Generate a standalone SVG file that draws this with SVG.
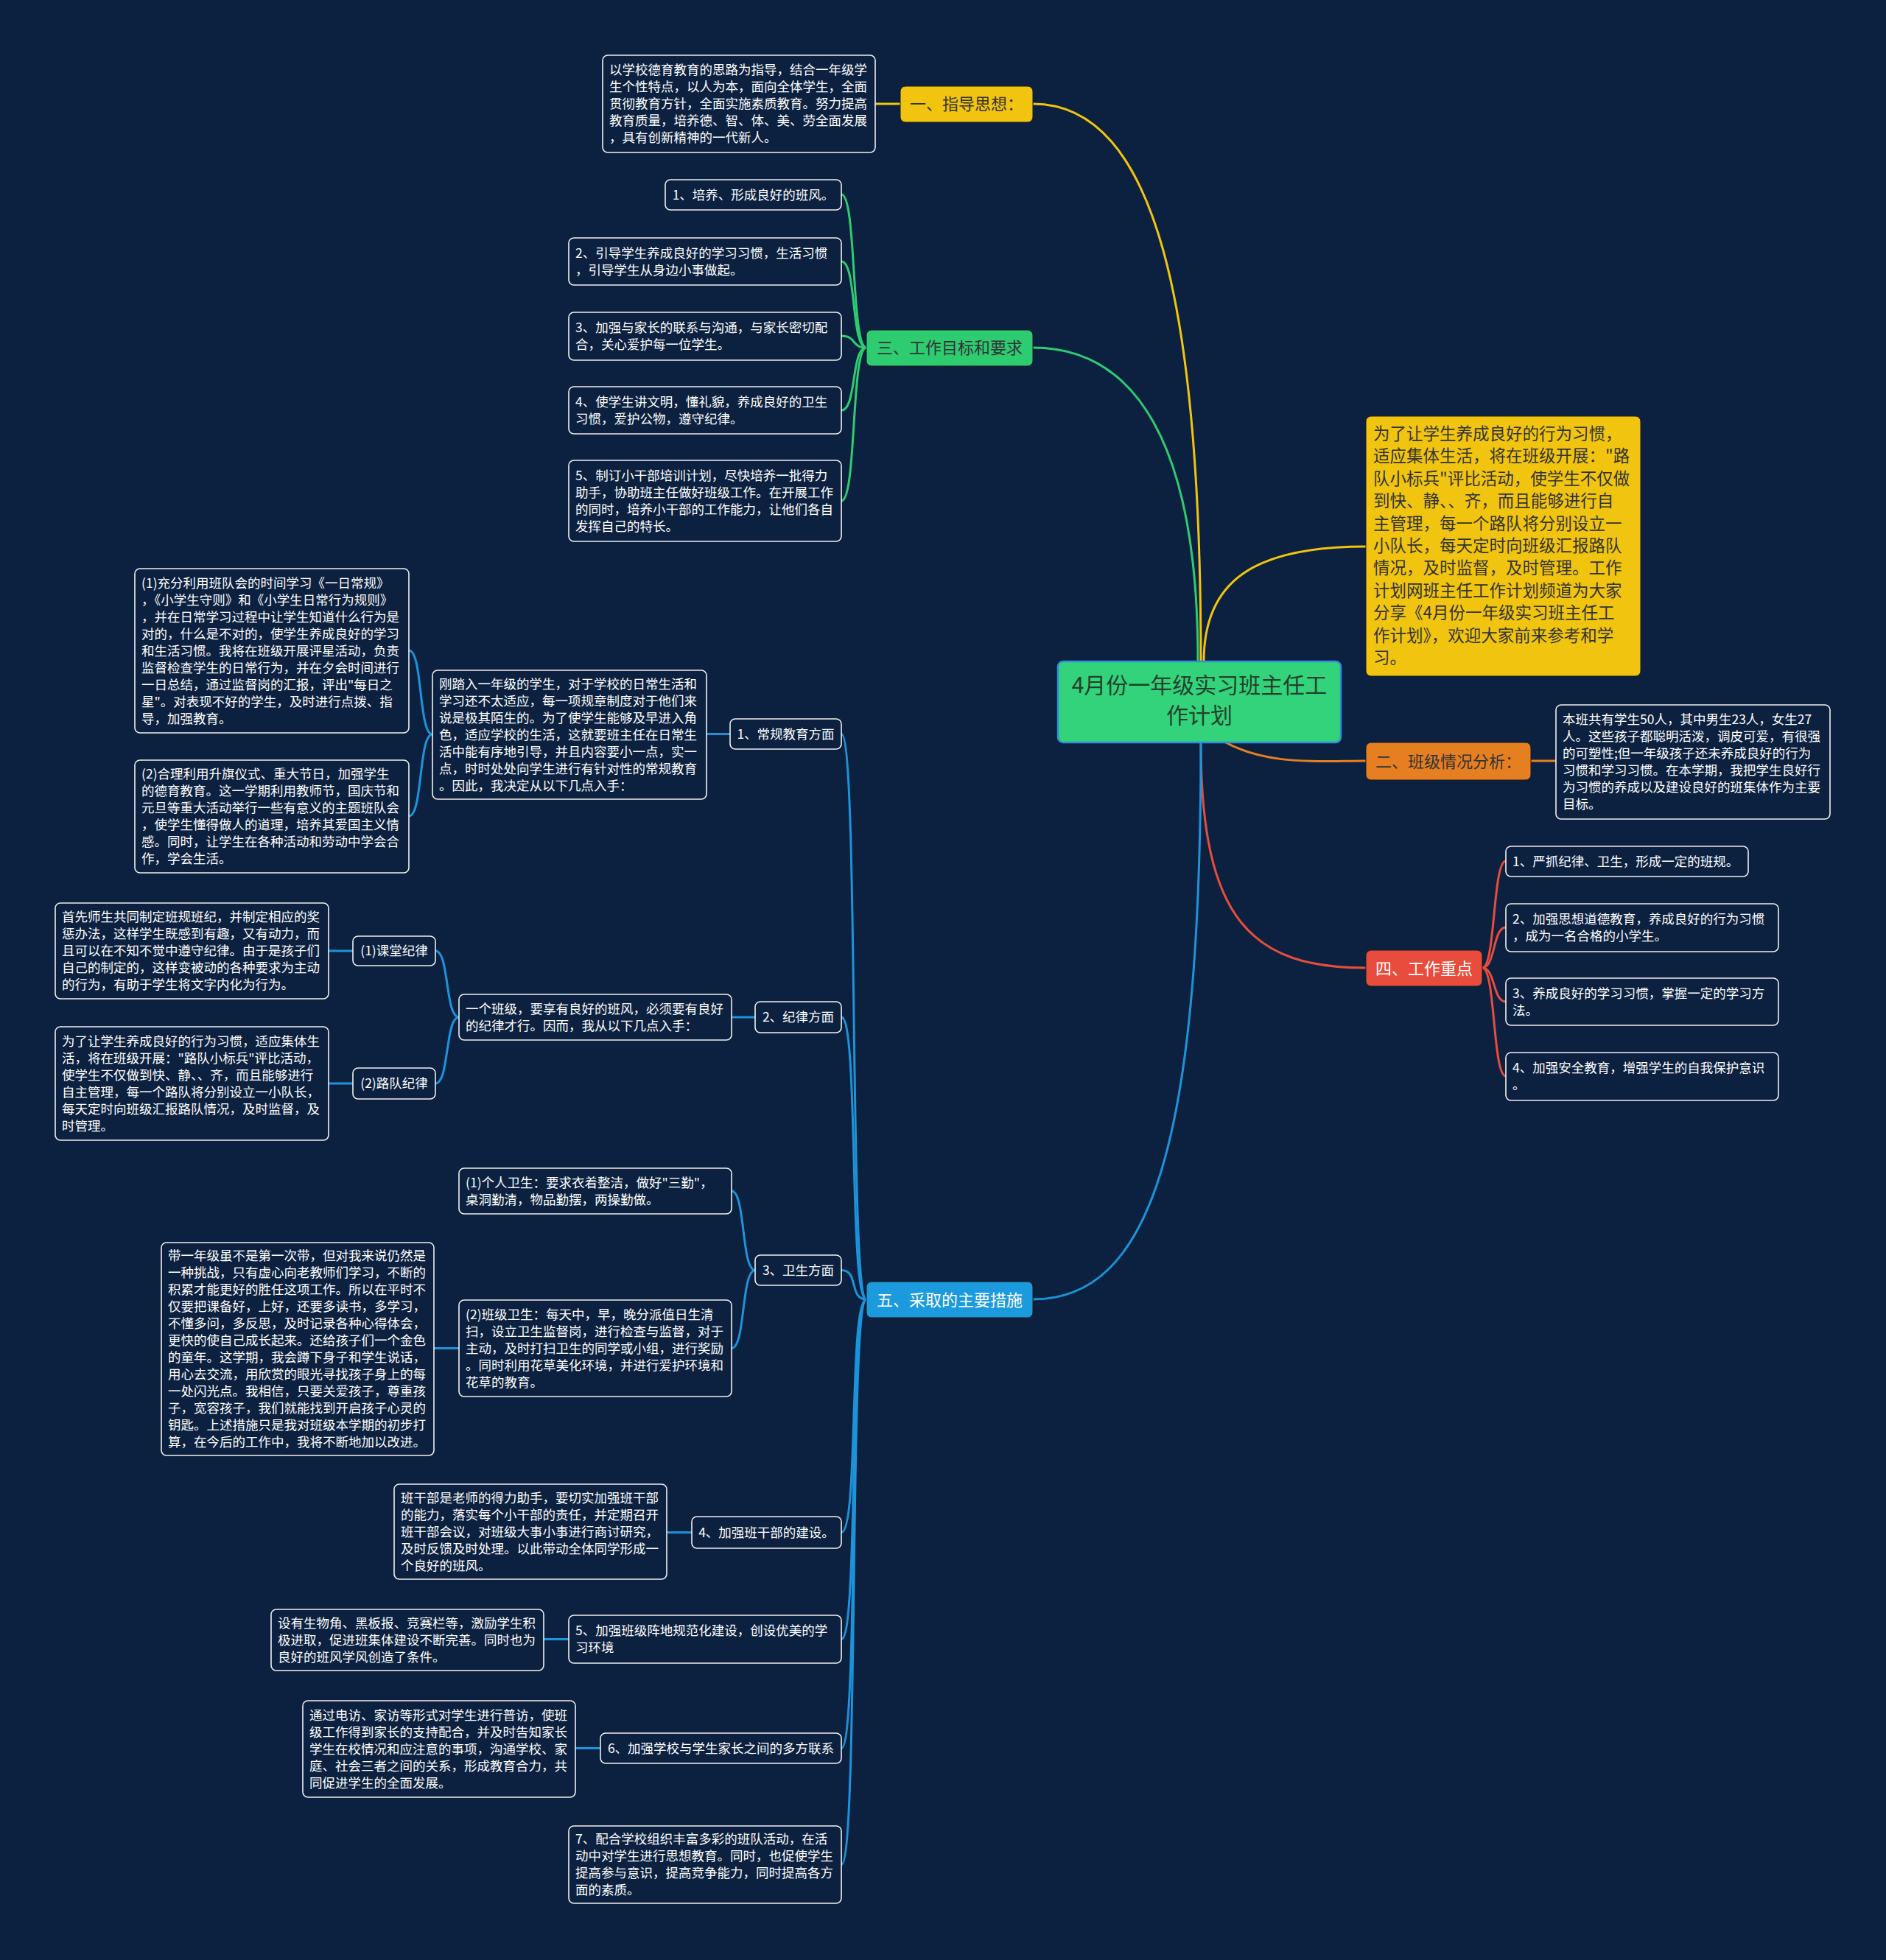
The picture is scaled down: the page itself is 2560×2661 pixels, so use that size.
<svg xmlns="http://www.w3.org/2000/svg" width="2560" height="2661" viewBox="0 0 2560 2661">
<style>
.t{font-family:"Noto Sans CJK SC","Noto Sans",sans-serif;font-size:17.5px;fill:#ffffff}
.c{text-anchor:middle}
.box{fill:#0c213f;stroke:#f0f0f0;stroke-width:1.6}
.m{font-family:"Noto Sans CJK SC","Noto Sans",sans-serif;font-size:22px;text-anchor:middle}
.dk{fill:#333333}
.wt{fill:#ffffff}
.lk{fill:none;stroke-width:3}
.y{stroke:#f1c40f}.g{stroke:#2ecc71}.o{stroke:#e67e22}.r{stroke:#e74c3c}.b{stroke:#1c93da}
</style>
<rect width="2560" height="2661" fill="#0c213f"/>
<g id="connectors">
<path class="lk y" d="M1630,898 C1630,420 1570,141 1402,141"/>
<path class="lk g" d="M1626,898 C1626,600 1540,472 1402,472"/>
<path class="lk y" d="M1634,898 C1634,790 1700,742 1854,742"/>
<path class="lk o" d="M1660,1006 C1720,1040 1790,1033 1854,1033"/>
<path class="lk r" d="M1630,1008 C1630,1250 1700,1314 1854,1314"/>
<path class="lk b" d="M1630,1008 C1630,1560 1560,1764 1402,1764"/>
<path class="lk y" d="M1222,141 L1188,141"/>
<path class="lk g" d="M1176,472 C1155,472 1163,264 1142,264"/>
<path class="lk g" d="M1176,472 C1155,472 1163,355 1142,355"/>
<path class="lk g" d="M1176,472 C1155,472 1163,456 1142,456"/>
<path class="lk g" d="M1176,472 C1155,472 1163,557 1142,557"/>
<path class="lk g" d="M1176,472 C1155,472 1163,680 1142,680"/>
<path class="lk o" d="M2078,1033 L2112,1033"/>
<path class="lk r" d="M2012,1314 C2030,1314 2026,1169 2044,1169"/>
<path class="lk r" d="M2012,1314 C2030,1314 2026,1259 2044,1259"/>
<path class="lk r" d="M2012,1314 C2030,1314 2026,1360 2044,1360"/>
<path class="lk r" d="M2012,1314 C2030,1314 2026,1461 2044,1461"/>
<path class="lk b" d="M1176,1764 C1152,1764 1166,996.5 1142,996.5"/>
<path class="lk b" d="M1176,1764 C1152,1764 1166,1381 1142,1381"/>
<path class="lk b" d="M1176,1764 C1152,1764 1166,1724.5 1142,1724.5"/>
<path class="lk b" d="M1176,1764 C1152,1764 1166,2080.5 1142,2080.5"/>
<path class="lk b" d="M1176,1764 C1152,1764 1166,2225.5 1142,2225.5"/>
<path class="lk b" d="M1176,1764 C1152,1764 1166,2373.5 1142,2373.5"/>
<path class="lk b" d="M1176,1764 C1152,1764 1166,2531.5 1142,2531.5"/>
<path class="lk b" d="M991,996.5 L959,996.5"/>
<path class="lk b" d="M587,997 C568,997 574,883 555,883"/>
<path class="lk b" d="M587,997 C568,997 574,1108 555,1108"/>
<path class="lk b" d="M1025,1381 L993,1381"/>
<path class="lk b" d="M623,1381 C604,1381 610,1291 591,1291"/>
<path class="lk b" d="M623,1381 C604,1381 610,1471 591,1471"/>
<path class="lk b" d="M479,1291 L446,1291"/>
<path class="lk b" d="M479,1471 L446,1471"/>
<path class="lk b" d="M1025,1724.5 C1006,1724.5 1012,1617 993,1617"/>
<path class="lk b" d="M1025,1724.5 C1006,1724.5 1012,1830.5 993,1830.5"/>
<path class="lk b" d="M623,1830.5 L589,1830.5"/>
<path class="lk b" d="M939,2080.5 L905,2080.5"/>
<path class="lk b" d="M772,2225.5 L738,2225.5"/>
<path class="lk b" d="M815,2373.5 L781,2373.5"/>
</g>
<g id="root">
<rect x="1436" y="898" width="384" height="110" rx="7" fill="#32d37a" stroke="#2f8fd8" stroke-width="2.5"/>
<text class="m" style="font-size:30px;fill:#23402c" x="1628" y="941">4月份一年级实习班主任工</text>
<text class="m" style="font-size:30px;fill:#23402c" x="1628" y="982">作计划</text>
</g>
<g id="n-guide">
<rect x="1222" y="117" width="180" height="49" rx="7" fill="#f1c40f" stroke="#1a1a1a" stroke-width="1"/>
<text class="m dk" x="1312" y="149">一、指导思想：</text>
</g>
<g id="n-guide-text">
<rect class="box" x="818" y="75" width="370" height="132" rx="7"/>
<text class="t" x="827" y="101">以学校德育教育的思路为指导，结合一年级学</text>
<text class="t" x="827" y="124">生个性特点，以人为本，面向全体学生，全面</text>
<text class="t" x="827" y="147">贯彻教育方针，全面实施素质教育。努力提高</text>
<text class="t" x="827" y="170">教育质量，培养德、智、体、美、劳全面发展</text>
<text class="t" x="827" y="193">，具有创新精神的一代新人。</text>
</g>
<g id="n-goals">
<rect x="1176" y="448" width="226" height="49" rx="7" fill="#2ecc71" stroke="#1a1a1a" stroke-width="1"/>
<text class="m dk" x="1289" y="480">三、工作目标和要求</text>
</g>
<g id="n-goal1">
<rect class="box" x="903" y="244" width="239" height="41" rx="7"/>
<text class="t c" x="1022.5" y="271">1、培养、形成良好的班风。</text>
</g>
<g id="n-goal2">
<rect class="box" x="772" y="323" width="370" height="64" rx="7"/>
<text class="t" x="781" y="350">2、引导学生养成良好的学习习惯，生活习惯</text>
<text class="t" x="781" y="373">，引导学生从身边小事做起。</text>
</g>
<g id="n-goal3">
<rect class="box" x="772" y="424" width="370" height="65" rx="7"/>
<text class="t" x="781" y="451">3、加强与家长的联系与沟通，与家长密切配</text>
<text class="t" x="781" y="474">合，关心爱护每一位学生。</text>
</g>
<g id="n-goal4">
<rect class="box" x="772" y="525" width="370" height="64" rx="7"/>
<text class="t" x="781" y="552">4、使学生讲文明，懂礼貌，养成良好的卫生</text>
<text class="t" x="781" y="575">习惯，爱护公物，遵守纪律。</text>
</g>
<g id="n-goal5">
<rect class="box" x="772" y="625" width="370" height="110" rx="7"/>
<text class="t" x="781" y="652">5、制订小干部培训计划，尽快培养一批得力</text>
<text class="t" x="781" y="675">助手，协助班主任做好班级工作。在开展工作</text>
<text class="t" x="781" y="698">的同时，培养小干部的工作能力，让他们各自</text>
<text class="t" x="781" y="721">发挥自己的特长。</text>
</g>
<g id="n-intro">
<rect x="1854" y="565" width="373" height="353" rx="7" fill="#f1c40f" stroke="#1a1a1a" stroke-width="1"/>
<g class="t" style="font-size:22.5px;fill:#333333">
<text x="1864" y="597">为了让学生养成良好的行为习惯，</text>
<text x="1864" y="627">适应集体生活，将在班级开展："路</text>
<text x="1864" y="658">队小标兵"评比活动，使学生不仅做</text>
<text x="1864" y="688">到快、静、、齐，而且能够进行自</text>
<text x="1864" y="719">主管理，每一个路队将分别设立一</text>
<text x="1864" y="749">小队长，每天定时向班级汇报路队</text>
<text x="1864" y="779">情况，及时监督，及时管理。工作</text>
<text x="1864" y="810">计划网班主任工作计划频道为大家</text>
<text x="1864" y="840">分享《4月份一年级实习班主任工</text>
<text x="1864" y="871">作计划》，欢迎大家前来参考和学</text>
<text x="1864" y="901">习。</text>
</g>
</g>
<g id="n-class">
<rect x="1854" y="1008" width="224" height="51" rx="7" fill="#e67e22" stroke="#1a1a1a" stroke-width="1"/>
<text class="m dk" x="1966" y="1042">二、班级情况分析：</text>
</g>
<g id="n-class-text">
<rect class="box" x="2112" y="957" width="372" height="155" rx="7"/>
<text class="t" x="2121" y="983">本班共有学生50人，其中男生23人，女生27</text>
<text class="t" x="2121" y="1006">人。这些孩子都聪明活泼，调皮可爱，有很强</text>
<text class="t" x="2121" y="1029">的可塑性;但一年级孩子还未养成良好的行为</text>
<text class="t" x="2121" y="1052">习惯和学习习惯。在本学期，我把学生良好行</text>
<text class="t" x="2121" y="1075">为习惯的养成以及建设良好的班集体作为主要</text>
<text class="t" x="2121" y="1098">目标。</text>
</g>
<g id="n-focus">
<rect x="1854" y="1290" width="158" height="49" rx="7" fill="#e74c3c" stroke="#1a1a1a" stroke-width="1"/>
<text class="m wt" x="1933" y="1323">四、工作重点</text>
</g>
<g id="n-focus1">
<rect class="box" x="2044" y="1149" width="329" height="41" rx="7"/>
<text class="t" x="2053" y="1176">1、严抓纪律、卫生，形成一定的班规。</text>
</g>
<g id="n-focus2">
<rect class="box" x="2044" y="1227" width="370" height="65" rx="7"/>
<text class="t" x="2053" y="1254">2、加强思想道德教育，养成良好的行为习惯</text>
<text class="t" x="2053" y="1277">，成为一名合格的小学生。</text>
</g>
<g id="n-focus3">
<rect class="box" x="2044" y="1328" width="370" height="64" rx="7"/>
<text class="t" x="2053" y="1355">3、养成良好的学习习惯，掌握一定的学习方</text>
<text class="t" x="2053" y="1378">法。</text>
</g>
<g id="n-focus4">
<rect class="box" x="2044" y="1429" width="370" height="65" rx="7"/>
<text class="t" x="2053" y="1456">4、加强安全教育，增强学生的自我保护意识</text>
<text class="t" x="2053" y="1479">。</text>
</g>
<g id="n-measures">
<rect x="1176" y="1740" width="226" height="49" rx="7" fill="#1b9ade" stroke="#1a1a1a" stroke-width="1"/>
<text class="m wt" x="1289" y="1773">五、采取的主要措施</text>
</g>
<g id="n-m1">
<rect class="box" x="991" y="976" width="151" height="41" rx="7"/>
<text class="t c" x="1066.5" y="1003">1、常规教育方面</text>
</g>
<g id="n-m1-text">
<rect class="box" x="587" y="910" width="372" height="175" rx="7"/>
<text class="t" x="596" y="935">刚踏入一年级的学生，对于学校的日常生活和</text>
<text class="t" x="596" y="958">学习还不太适应，每一项规章制度对于他们来</text>
<text class="t" x="596" y="981">说是极其陌生的。为了使学生能够及早进入角</text>
<text class="t" x="596" y="1004">色，适应学校的生活，这就要班主任在日常生</text>
<text class="t" x="596" y="1027">活中能有序地引导，并且内容要小一点，实一</text>
<text class="t" x="596" y="1050">点，时时处处向学生进行有针对性的常规教育</text>
<text class="t" x="596" y="1073">。因此，我决定从以下几点入手：</text>
</g>
<g id="n-m1-a">
<rect class="box" x="183" y="772" width="372" height="223" rx="7"/>
<text class="t" x="192" y="798">(1)充分利用班队会的时间学习《一日常规》</text>
<text class="t" x="192" y="821">，《小学生守则》和《小学生日常行为规则》</text>
<text class="t" x="192" y="844">，并在日常学习过程中让学生知道什么行为是</text>
<text class="t" x="192" y="867">对的，什么是不对的，使学生养成良好的学习</text>
<text class="t" x="192" y="890">和生活习惯。我将在班级开展评星活动，负责</text>
<text class="t" x="192" y="913">监督检查学生的日常行为，并在夕会时间进行</text>
<text class="t" x="192" y="936">一日总结，通过监督岗的汇报，评出"每日之</text>
<text class="t" x="192" y="959">星"。对表现不好的学生，及时进行点拨、指</text>
<text class="t" x="192" y="982">导，加强教育。</text>
</g>
<g id="n-m1-b">
<rect class="box" x="183" y="1032" width="372" height="153" rx="7"/>
<text class="t" x="192" y="1057">(2)合理利用升旗仪式、重大节日，加强学生</text>
<text class="t" x="192" y="1080">的德育教育。这一学期利用教师节，国庆节和</text>
<text class="t" x="192" y="1103">元旦等重大活动举行一些有意义的主题班队会</text>
<text class="t" x="192" y="1126">，使学生懂得做人的道理，培养其爱国主义情</text>
<text class="t" x="192" y="1149">感。同时，让学生在各种活动和劳动中学会合</text>
<text class="t" x="192" y="1172">作，学会生活。</text>
</g>
<g id="n-m2">
<rect class="box" x="1025" y="1360" width="117" height="42" rx="7"/>
<text class="t c" x="1083.5" y="1387">2、纪律方面</text>
</g>
<g id="n-m2-text">
<rect class="box" x="623" y="1350" width="370" height="62" rx="7"/>
<text class="t" x="632" y="1376">一个班级，要享有良好的班风，必须要有良好</text>
<text class="t" x="632" y="1399">的纪律才行。因而，我从以下几点入手：</text>
</g>
<g id="n-m2-a">
<rect class="box" x="479" y="1271" width="112" height="40" rx="7"/>
<text class="t c" x="535" y="1297">(1)课堂纪律</text>
</g>
<g id="n-m2-a-text">
<rect class="box" x="75" y="1226" width="371" height="130" rx="7"/>
<text class="t" x="84" y="1251">首先师生共同制定班规班纪，并制定相应的奖</text>
<text class="t" x="84" y="1274">惩办法，这样学生既感到有趣，又有动力，而</text>
<text class="t" x="84" y="1297">且可以在不知不觉中遵守纪律。由于是孩子们</text>
<text class="t" x="84" y="1320">自己的制定的，这样变被动的各种要求为主动</text>
<text class="t" x="84" y="1343">的行为，有助于学生将文字内化为行为。</text>
</g>
<g id="n-m2-b">
<rect class="box" x="479" y="1450" width="112" height="42" rx="7"/>
<text class="t c" x="535" y="1477">(2)路队纪律</text>
</g>
<g id="n-m2-b-text">
<rect class="box" x="75" y="1394" width="371" height="154" rx="7"/>
<text class="t" x="84" y="1420">为了让学生养成良好的行为习惯，适应集体生</text>
<text class="t" x="84" y="1443">活，将在班级开展："路队小标兵"评比活动，</text>
<text class="t" x="84" y="1466">使学生不仅做到快、静、、齐，而且能够进行</text>
<text class="t" x="84" y="1489">自主管理，每一个路队将分别设立一小队长，</text>
<text class="t" x="84" y="1512">每天定时向班级汇报路队情况，及时监督，及</text>
<text class="t" x="84" y="1535">时管理。</text>
</g>
<g id="n-m3">
<rect class="box" x="1025" y="1704" width="117" height="41" rx="7"/>
<text class="t c" x="1083.5" y="1731">3、卫生方面</text>
</g>
<g id="n-m3-a">
<rect class="box" x="623" y="1586" width="370" height="62" rx="7"/>
<text class="t" x="632" y="1612">(1)个人卫生：要求衣着整洁，做好"三勤"，</text>
<text class="t" x="632" y="1635">桌洞勤清，物品勤摆，两操勤做。</text>
</g>
<g id="n-m3-b">
<rect class="box" x="623" y="1765" width="370" height="131" rx="7"/>
<text class="t" x="632" y="1791">(2)班级卫生：每天中，早，晚分派值日生清</text>
<text class="t" x="632" y="1814">扫，设立卫生监督岗，进行检查与监督，对于</text>
<text class="t" x="632" y="1837">主动，及时打扫卫生的同学或小组，进行奖励</text>
<text class="t" x="632" y="1860">。同时利用花草美化环境，并进行爱护环境和</text>
<text class="t" x="632" y="1883">花草的教育。</text>
</g>
<g id="n-m3-b-text">
<rect class="box" x="219" y="1687" width="370" height="289" rx="7"/>
<text class="t" x="228" y="1711">带一年级虽不是第一次带，但对我来说仍然是</text>
<text class="t" x="228" y="1734">一种挑战，只有虚心向老教师们学习，不断的</text>
<text class="t" x="228" y="1757">积累才能更好的胜任这项工作。所以在平时不</text>
<text class="t" x="228" y="1780">仅要把课备好，上好，还要多读书，多学习，</text>
<text class="t" x="228" y="1803">不懂多问，多反思，及时记录各种心得体会，</text>
<text class="t" x="228" y="1826">更快的使自己成长起来。还给孩子们一个金色</text>
<text class="t" x="228" y="1849">的童年。这学期，我会蹲下身子和学生说话，</text>
<text class="t" x="228" y="1872">用心去交流，用欣赏的眼光寻找孩子身上的每</text>
<text class="t" x="228" y="1895">一处闪光点。我相信，只要关爱孩子，尊重孩</text>
<text class="t" x="228" y="1918">子，宽容孩子，我们就能找到开启孩子心灵的</text>
<text class="t" x="228" y="1941">钥匙。上述措施只是我对班级本学期的初步打</text>
<text class="t" x="228" y="1964">算，在今后的工作中，我将不断地加以改进。</text>
</g>
<g id="n-m4">
<rect class="box" x="939" y="2059" width="203" height="43" rx="7"/>
<text class="t c" x="1040.5" y="2087">4、加强班干部的建设。</text>
</g>
<g id="n-m4-text">
<rect class="box" x="535" y="2015" width="370" height="129" rx="7"/>
<text class="t" x="544" y="2040">班干部是老师的得力助手，要切实加强班干部</text>
<text class="t" x="544" y="2063">的能力，落实每个小干部的责任，并定期召开</text>
<text class="t" x="544" y="2086">班干部会议，对班级大事小事进行商讨研究，</text>
<text class="t" x="544" y="2109">及时反馈及时处理。以此带动全体同学形成一</text>
<text class="t" x="544" y="2132">个良好的班风。</text>
</g>
<g id="n-m5">
<rect class="box" x="772" y="2193" width="370" height="65" rx="7"/>
<text class="t" x="781" y="2220">5、加强班级阵地规范化建设，创设优美的学</text>
<text class="t" x="781" y="2243">习环境</text>
</g>
<g id="n-m5-text">
<rect class="box" x="368" y="2185" width="370" height="83" rx="7"/>
<text class="t" x="377" y="2210">设有生物角、黑板报、竞赛栏等，激励学生积</text>
<text class="t" x="377" y="2233">极进取，促进班集体建设不断完善。同时也为</text>
<text class="t" x="377" y="2256">良好的班风学风创造了条件。</text>
</g>
<g id="n-m6">
<rect class="box" x="815" y="2353" width="327" height="41" rx="7"/>
<text class="t c" x="978.5" y="2380">6、加强学校与学生家长之间的多方联系</text>
</g>
<g id="n-m6-text">
<rect class="box" x="411" y="2309" width="370" height="131" rx="7"/>
<text class="t" x="420" y="2335">通过电访、家访等形式对学生进行普访，使班</text>
<text class="t" x="420" y="2358">级工作得到家长的支持配合，并及时告知家长</text>
<text class="t" x="420" y="2381">学生在校情况和应注意的事项，沟通学校、家</text>
<text class="t" x="420" y="2404">庭、社会三者之间的关系，形成教育合力，共</text>
<text class="t" x="420" y="2427">同促进学生的全面发展。</text>
</g>
<g id="n-m7">
<rect class="box" x="772" y="2479" width="370" height="105" rx="7"/>
<text class="t" x="781" y="2503">7、配合学校组织丰富多彩的班队活动，在活</text>
<text class="t" x="781" y="2526">动中对学生进行思想教育。同时，也促使学生</text>
<text class="t" x="781" y="2549">提高参与意识，提高竞争能力，同时提高各方</text>
<text class="t" x="781" y="2572">面的素质。</text>
</g>
</svg>
